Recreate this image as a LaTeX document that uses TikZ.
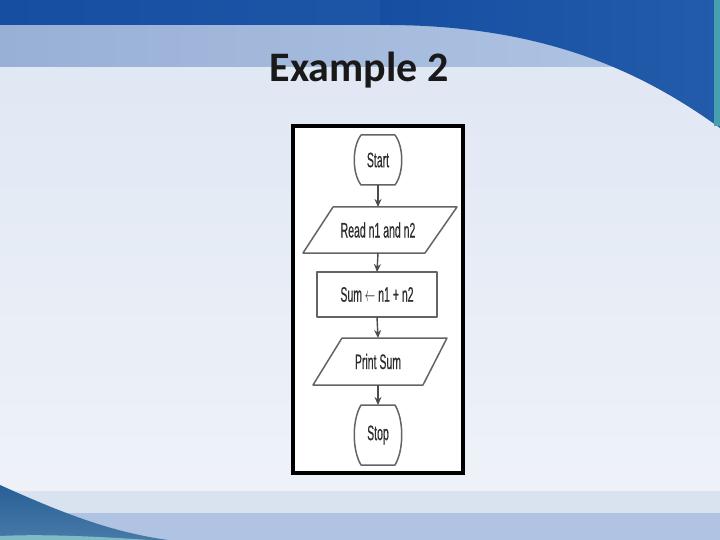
\documentclass[tikz,border=0pt]{standalone}
\usepackage{fontspec}
\setmainfont{Liberation Sans}
\newfontfamily\titlefont{Carlito}
\newfontfamily\fcfont[FakeBold=0.6]{Liberation Sans}
\usetikzlibrary{arrows.meta,calc}
\definecolor{bandDark}{RGB}{22,78,162}
\definecolor{bandDarkR}{RGB}{35,92,170}
\definecolor{bandLight}{RGB}{152,176,214}
\definecolor{bandLightR}{RGB}{178,198,228}
\definecolor{mainTop}{RGB}{222,230,243}
\definecolor{mainBot}{RGB}{240,243,249}
\definecolor{botBand1}{RGB}{217,226,239}
\definecolor{botBand2}{RGB}{176,195,226}
\definecolor{wedge}{RGB}{72,122,168}
\definecolor{wedgeDark}{RGB}{40,95,150}
\definecolor{tealC}{RGB}{70,160,175}
\definecolor{shapeLine}{RGB}{100,100,100}
\definecolor{txtC}{RGB}{45,45,45}
\newcommand\fctext[1]{\scalebox{0.5}[1]{#1}}
\tikzset{
  holder/.style={draw=none, inner sep=0pt, outer sep=0pt, text=txtC,
    font=\fcfont\fontsize{21}{21}\selectfont},
  shapeline/.style={draw=shapeLine, line width=1.5pt, line join=round},
  arr/.style={draw=black!70, line width=1.4pt, -{Stealth[length=8pt,width=7pt]}}
}
\begin{document}
\begin{tikzpicture}[x=1pt,y=-1pt]
\useasboundingbox (0,0) rectangle (720,540);
% background
\shade[top color=mainTop, bottom color=mainBot] (0,0) rectangle (720,540);
\shade[left color=bandLight, right color=bandLightR] (0,25) rectangle (720,67);
\shade[left color=bandDark, right color=bandDarkR] (0,0) rectangle (720,25);
\shade[left color=bandDark, right color=bandDarkR]
  (380,25) .. controls (540,24) and (640,70) .. (720,128) -- (720,0) -- (380,0) -- cycle;
\fill[tealC] (714,0) rectangle (720,126);
\fill[botBand1] (0,491) rectangle (720,513);
\fill[botBand2] (0,513) rectangle (720,540);
\shade[top color=wedgeDark, bottom color=wedge]
  (0,485) .. controls (60,512) and (110,532) .. (168,540) -- (0,540) -- cycle;
\fill[tealC!70!white] (0,536) .. controls (40,534) and (90,536) .. (150,540) -- (0,540) -- cycle;
% title
\node[anchor=base, font=\titlefont\bfseries\fontsize{42}{42}\selectfont, text=black!90]
  (title) at (359,82) {Example 2};
% frame
\draw[black, line width=3.5pt, fill=white] (293,126) rectangle (463,473);
% nodes
\node[holder, minimum width=34, minimum height=50] (start) at (378,160) {\fctext{Start}};
\node[holder, minimum width=120, minimum height=46] (read) at (378,230) {\fctext{Read n1 and n2}};
\node[holder, shapeline, minimum width=120, minimum height=45] (sum) at (377,294.5) {\fctext{Sum \(\leftarrow\) n1 + n2}};
\node[holder, minimum width=108, minimum height=47] (print) at (378,361.5) {\fctext{Print Sum}};
\node[holder, minimum width=34, minimum height=60] (stop) at (378,435) {\fctext{Stop}};
% shapes
\draw[shapeline] (start.north west) -- (start.north east)
  .. controls +(9,12) and +(9,-12) .. (start.south east) -- (start.south west)
  .. controls +(-9,-12) and +(-9,12) .. (start.north west) -- cycle;
\draw[shapeline] ($(read)+(-45,-23)$) -- ($(read)+(79,-23)$) -- ($(read)+(47,23)$) -- ($(read)+(-75,23)$) -- cycle;
\draw[shapeline] ($(print)+(-36,-23.5)$) -- ($(print)+(69,-23.5)$) -- ($(print)+(45,23.5)$) -- ($(print)+(-65,23.5)$) -- cycle;
\draw[shapeline] (stop.north west) -- (stop.north east)
  .. controls +(9,15) and +(9,-15) .. (stop.south east) -- (stop.south west)
  .. controls +(-9,-15) and +(-9,15) .. (stop.north west) -- cycle;
% connectors
\draw[arr] (start.south) -- (read.north);
\draw[arr] (read.south) -- (sum.north);
\draw[arr] (sum.south) -- (print.north);
\draw[arr] (print.south) -- (stop.north);
\end{tikzpicture}
\end{document}
